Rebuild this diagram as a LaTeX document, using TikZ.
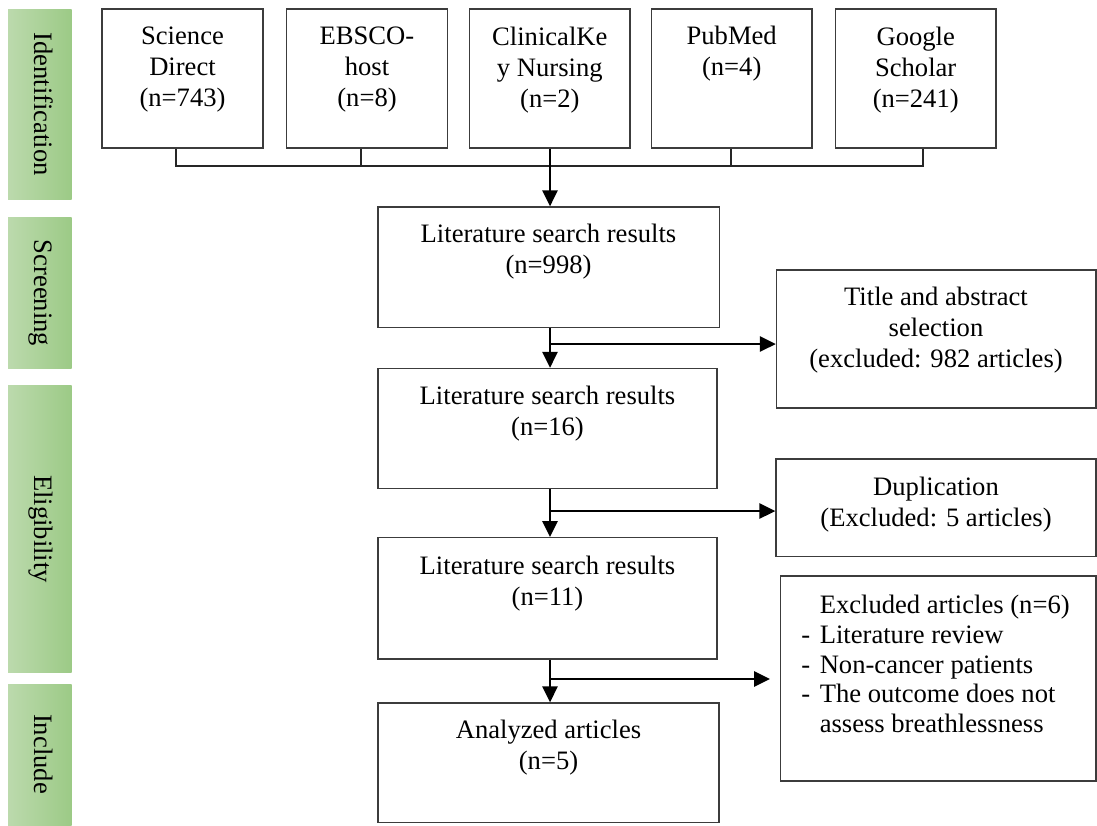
\documentclass[tikz,border=0pt]{standalone}
\usepackage{fontspec}
\setmainfont{Liberation Serif}
\usetikzlibrary{fit,arrows.meta,calc}
\definecolor{barL}{RGB}{188,218,173}
\definecolor{barR}{RGB}{156,202,134}
\definecolor{boxline}{RGB}{60,60,60}
\begin{document}
\begin{tikzpicture}[x=0.5pt,y=-0.5pt,
  fbox/.style={draw=boxline, line width=0.6pt, inner sep=0pt},
  bar/.style={inner sep=0pt, left color=barL, right color=barR, draw=none},
  txt/.style={align=center, inner sep=0pt, font=\fontsize{13.3}{15.5}\selectfont},
  vtxt/.style={rotate=-90, anchor=base, inner sep=0pt, font=\fontsize{13.3}{15.5}\selectfont},
  arr/.style={line width=1.4pt, -{Triangle[length=8pt,width=7.5pt]}},
  brk/.style={line width=0.7pt, draw=black!85}]
\useasboundingbox (0,0) rectangle (1097,825);

% stage bars
\node[bar, fit={(8,9) (71.5,199)}] (idb) {};
\node[bar, fit={(8,217) (71.5,368.5)}] (scb) {};
\node[bar, fit={(8,385) (71.5,672.5)}] (elb) {};
\node[bar, fit={(8,684) (71.5,825)}] (inb) {};
\node[vtxt] (idt) at (34,104) {Identification};
\node[vtxt] (sct) at (34,293) {Screening};
\node[vtxt] (elt) at (34,529) {Eligibility};
\node[vtxt] (int) at (34,754) {Include};

% source boxes
\node[fbox, fit={(102,9) (263,148)}] (sd) {};
\node[fbox, fit={(286.7,9) (447.7,148)}] (eb) {};
\node[fbox, fit={(469.6,9) (630,148)}] (ck) {};
\node[fbox, fit={(651.5,9) (812,148)}] (pm) {};
\node[fbox, fit={(835.4,9) (996,148)}] (gs) {};
\node[txt] (sdt) at (182.5,70) {Science\\Direct\\(n=743)};
\node[txt] (ebt) at (367,70) {EBSCO-\\host\\(n=8)};
\node[txt] (ckt) at (549.8,70) {ClinicalKe\\y Nursing\\(n=2)};
\node[txt] (pmt) at (731.7,53.5) {PubMed\\(n=4)};
\node[txt] (gst) at (915.7,70) {Google\\Scholar\\(n=241)};

% main boxes
\node[fbox, fit={(378,207) (719.5,327.7)}] (b1) {};
\node[fbox, fit={(378,368.5) (717,488.5)}] (b2) {};
\node[fbox, fit={(378,537.7) (717,659)}] (b3) {};
\node[fbox, fit={(378,703) (719,822.7)}] (b4) {};
\node[txt] (b1t) at (548.5,252) {Literature search results\\(n=998)};
\node[txt] (b2t) at (547.5,413.5) {Literature search results\\(n=16)};
\node[txt] (b3t) at (547.5,583.5) {Literature search results\\(n=11)};
\node[txt] (b4t) at (548.5,747.5) {Analyzed articles\\(n=5)};

% exclusion boxes
\node[fbox, fit={(776.5,270) (1096,408)}] (tb) {};
\node[fbox, fit={(776,459) (1096,556.7)}] (db) {};
\node[fbox, fit={(780.7,576) (1096,781)}] (xb) {};
\node[txt] (tbt) at (936,330) {Title and abstract\\selection\\(excluded: 982 articles)};
\node[txt] (dbt) at (936,505) {Duplication\\(Excluded: 5 articles)};
\node[align=left, inner sep=0pt, anchor=west, font=\fontsize{13.3}{14.9}\selectfont] (xbt) at (801,664)
  {\hspace*{9.2pt}Excluded articles (n=6)\\
   \makebox[9.2pt][l]{-}Literature review\\
   \makebox[9.2pt][l]{-}Non-cancer patients\\
   \makebox[9.2pt][l]{-}The outcome does not\\
   \hspace*{9.2pt}assess breathlessness};

% bracket joining the sources
\coordinate (k1) at (176,166);
\coordinate (k2) at (361,166);
\coordinate (k4) at (731,166);
\coordinate (k5) at (923,166);
\draw[brk] (sd.south -| k1) -- (k1) -- (k5) -- (gs.south -| k5);
\draw[brk] (eb.south -| k2) -- (k2);
\draw[brk] (pm.south -| k4) -- (k4);

% main flow
\coordinate (ax) at (550,0);
\draw[arr] (ck.south -| ax) -- (b1.north -| ax);
\draw[arr] (b1.south -| ax) -- (b2.north -| ax);
\draw[arr] (b2.south -| ax) -- (b3.north -| ax);
\draw[arr] (b3.south -| ax) -- (b4.north -| ax);

% side branches
\coordinate (br1) at (550,344);
\coordinate (br2) at (550,511);
\coordinate (br3) at (550,679);
\coordinate (e3) at (770,679);
\draw[arr] (br1) -- (br1 -| tb.west);
\draw[arr] (br2) -- (br2 -| db.west);
\draw[arr] (br3) -- (e3);
\end{tikzpicture}
\end{document}
